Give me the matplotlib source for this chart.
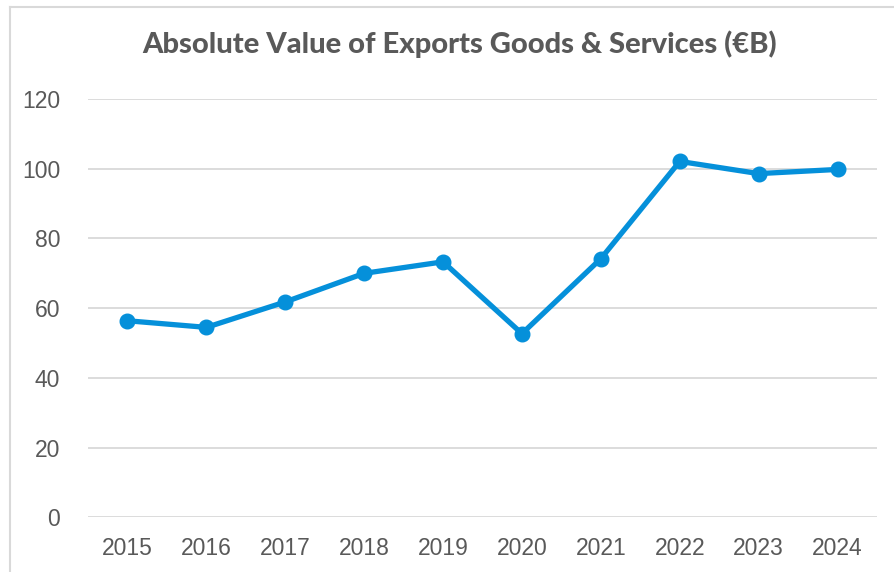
import matplotlib
matplotlib.use("Agg")
import matplotlib.pyplot as plt
from matplotlib.lines import Line2D

years = ["2015", "2016", "2017", "2018", "2019", "2020", "2021", "2022", "2023", "2024"]
exports = [56.4, 54.5, 61.8, 70.0, 73.3, 52.7, 74.2, 102.1, 98.6, 99.8]
y_ticks = [0, 20, 40, 60, 80, 100, 120]
title = "Absolute Value of Exports Goods & Services (€B)"

W, H = 895, 572
fig = plt.figure(figsize=(W / 100, H / 100), dpi=100)
fig.patch.set_facecolor("white")

# plot area in pixel coordinates
left, right, top, bottom = 88, 877, 99, 517.4
ax = fig.add_axes([left / W, 1 - bottom / H, (right - left) / W, (bottom - top) / H])

x = list(range(len(years)))
ax.plot(x, exports, color="#0590DA", lw=3.8, marker="o", markersize=10.5,
        solid_joinstyle="round", clip_on=False, zorder=3)

ax.set_xlim(-0.5, len(years) - 0.5)
ax.set_ylim(0, 120)
ax.set_yticks(y_ticks)
ax.set_xticks(x)
ax.set_xticklabels(years)
ax.yaxis.grid(True, color="#d9d9d9", lw=1.3)
ax.set_axisbelow(True)
for s in ax.spines.values():
    s.set_visible(False)
ax.tick_params(axis="both", length=0, labelsize=16.5, labelcolor="#595959")
ax.tick_params(axis="y", pad=20)
ax.tick_params(axis="x", pad=14)
for lab in ax.get_xticklabels() + ax.get_yticklabels():
    lab.set_fontfamily("Liberation Sans")

fig.text(460 / W, 1 - 53 / H, title, ha="center", va="baseline",
         fontsize=21, fontweight=900, color="#595959", family="Lato")

# chart frame (left and top edges)
fig.add_artist(Line2D([10 / W, 10 / W], [0, 1 - 7 / H], transform=fig.transFigure,
                      color="#d9d9d9", lw=1.5))
fig.add_artist(Line2D([10 / W, 1], [1 - 7 / H, 1 - 7 / H], transform=fig.transFigure,
                      color="#d9d9d9", lw=1.5))

fig.savefig("out.png", dpi=100)
